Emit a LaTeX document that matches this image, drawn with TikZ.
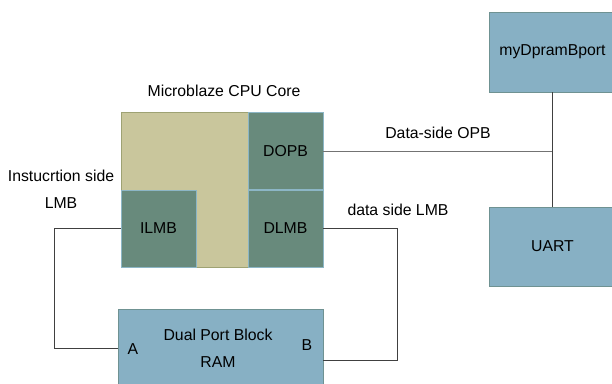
\documentclass[tikz,border=0pt]{standalone}
\usepackage{fontspec}
\setmainfont{Liberation Sans}
\usepackage{tikz}
\usetikzlibrary{arrows,shapes}
\definecolor{coretan}{HTML}{C9C69C}
\definecolor{coreedge}{HTML}{9EA273}
\definecolor{portgreen}{HTML}{688A7C}
\definecolor{portedge}{HTML}{8CB6C6}
\definecolor{boxblue}{HTML}{87B0C4}
\definecolor{boxedge}{HTML}{6F9292}
\tikzstyle{core}=[rectangle,draw=coreedge,fill=coretan,minimum width=202pt,minimum height=155pt,inner sep=0pt]
\tikzstyle{port}=[rectangle,draw=portedge,fill=portgreen,minimum width=75pt,minimum height=77pt,inner sep=0pt]
\tikzstyle{block}=[rectangle,draw=boxedge,fill=boxblue,minimum width=127pt,minimum height=79pt,inner sep=0pt]
\tikzstyle{edge} = [draw,line width=0.9pt,black!75,-]
\tikzstyle{txt}=[inner sep=0pt,align=center]

\begin{document}
\begin{tikzpicture}[x=1pt,y=-1pt,font=\fontsize{15.8}{27}\selectfont]
    \useasboundingbox (0,0) rectangle (612,383);
    \clip (0,0) rectangle (612,383);
    % Draw the CPU core with its bus ports
    \node[core] (core) at (222,189.5) {};
    \node[txt] (coretitle) at (224,91) {Microblaze CPU Core};
    \foreach \pos/\name in {{(158.5,228.5)/ILMB}, {(285.5,151)/DOPB}, {(285.5,228.5)/DLMB}}
        \node[port] (\name) at \pos {\name};

    % the memory and the peripherals
    \node[block,minimum width=205pt,minimum height=78pt] (ram) at (220.5,348) {};
    \node[txt] (ramtxt) at (218,348) {Dual Port Block\\RAM};
    \node[txt] (porta) at (133,349) {A};
    \node[txt] (portb) at (307,345) {B};
    \node[block,minimum height=80pt] (dpram) at (552.5,52) {myDpramBport};
    \node[block] (uart) at (552.5,246.5) {UART};
    \coordinate (opb) at (553,151);

    % Connect the ports with buses
    \path[edge] (ILMB.west) -| (54,348) -- (ram.west);
    \path[edge] (DLMB.east) -| (397,360) -- ([yshift=-12pt]ram.east);
    \path[edge,black!55] (DOPB.east) -- (opb);
    \path[edge] (dpram.south) -- (uart.north);

    % bus labels
    \node[txt] (ilmbtxt) at (61,189) {Instucrtion side\\LMB};
    \node[txt] (opbtxt) at (438,133) {Data-side OPB};
    \node[txt] (dlmbtxt) at (398,210) {data side LMB};
\end{tikzpicture}
\end{document}
